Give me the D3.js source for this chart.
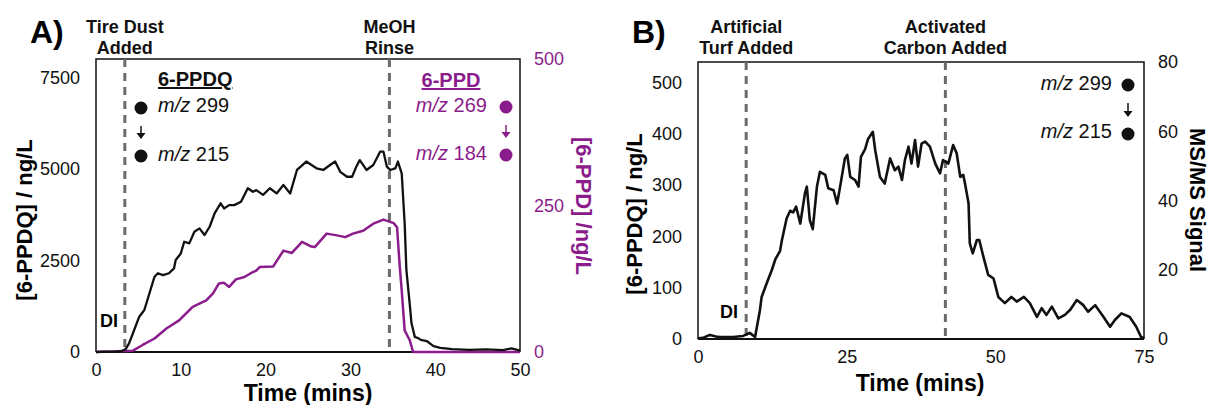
<!DOCTYPE html>
<html lang="en">
  <head>
    <meta charset="utf-8">
    <title>6-PPDQ / 6-PPD time traces</title>
    <script src="https://d3js.org/d3.v7.min.js"></script>
    <style>
      body { margin: 0; background: #fff; }
      text { font-family: "Liberation Sans", Arial, sans-serif; }
    </style>
  </head>
  <body>
    <svg id="chart" width="1209" height="405"></svg>
    <script type="text/javascript">
      // 1) data
      // panel A, 6-PPDQ (left axis, ng/L)
      let timeA_ppdq = [0, 1, 2, 3, 3.5, 3.9, 4.5, 5.1, 5.7, 6.3, 6.9, 7.3, 7.9, 8.6, 9.2, 9.4, 10.0, 10.4, 11.0, 11.6,
        12.2, 12.8, 13.4, 14.0, 14.7, 15.1, 15.7, 16.3, 17.1, 17.9, 18.5, 18.9, 19.7, 20.5, 21.3, 22.1, 22.9, 23.7,
        24.8, 26.0, 26.8, 27.6, 28.2, 28.8, 29.6, 30.2, 30.7, 31.1, 31.9, 32.7, 33.5, 33.9, 34.3, 34.7, 35.3, 35.6,
        36.05, 36.4, 36.6, 37.0, 37.2, 37.6, 38.0, 38.3, 39.0, 39.8, 40.6, 42, 44, 46, 48, 49, 50];
      let ppdq = [0, 10, 5, 20, 80, 237, 600, 964, 1147, 1600, 2055, 2150, 2100, 2150, 2285, 2510, 2690, 3010, 2965, 3285,
        3375, 3195, 3420, 3790, 4060, 3920, 4010, 4010, 4100, 4470, 4375, 4420, 4290, 4470, 4330, 4560, 4330, 4970,
        5200, 5015, 4970, 5105, 5200, 4920, 4785, 4785, 5060, 5240, 4970, 5105, 5470, 5470, 5060, 4970, 5015, 5200,
        4880, 3510, 2240, 1300, 790, 410, 380, 330, 300, 160, 110, 80, 60, 70, 50, 100, 40];
      // panel A, 6-PPD (right axis, ng/L)
      let timeA_ppd = [0, 4.3, 5.5, 6.9, 8.3, 9.8, 11.4, 13.0, 13.8, 14.5, 15.1, 15.7, 16.5, 17.5, 18.2, 18.9, 19.3,
        20.9, 22.1, 23.1, 24.3, 25.4, 25.8, 27.2, 28.4, 29.4, 30.3, 31.5, 32.7, 33.9, 35.1, 35.5, 35.8, 36.05, 36.4,
        37.0, 37.4, 50];
      let ppd = [0, 2, 12, 23, 40, 54, 77, 88, 100, 117, 118, 111, 124, 128, 134, 139, 145,
        146, 173, 169, 188, 180, 179, 202, 199, 196, 202, 207, 219, 226, 220, 213, 150, 105, 37,
        20, 0, 0];
      // panel B, 6-PPDQ (left axis, ng/L)
      let timeB = [0, 1, 2, 3, 3.7, 5.9, 7.6, 8.7, 9.6, 10.4, 10.7, 11.6, 12.4, 13.0, 13.8, 14.1, 14.9, 15.5, 16.0, 16.5,
        17.2, 18.0, 18.3, 18.8, 19.3, 20.0, 20.5, 21.4, 21.9, 22.8, 23.4, 23.9, 24.7, 25.1, 25.6, 26.4, 27.0, 27.4,
        28.1, 28.6, 29.4, 29.8, 30.6, 31.4, 32.3, 33.1, 33.7, 34.3, 34.8, 35.4, 35.9, 36.5, 37.0, 37.6, 38.2, 39.0,
        39.9, 40.7, 41.2, 42.1, 42.9, 43.5, 44.1, 44.6, 44.9, 45.5, 45.7, 46.2, 46.9, 47.3, 48.0, 48.8, 49.7, 50.5,
        51.6, 52.7, 53.6, 54.8, 55.8, 57.0, 57.8, 58.6, 59.5, 60.6, 61.7, 62.6, 63.7, 64.8, 65.6, 66.8, 68.2, 69.3,
        70.1, 71.2, 72.6, 73.7, 74.5, 75];
      let ppdqB = [1, 3, 8, 5, 4, 4, 6, 12, 4, 55, 82, 110, 134, 155, 172, 192, 235, 250, 247, 258,
        225, 285, 297, 232, 214, 297, 326, 320, 294, 290, 264, 297, 352, 359, 316, 310, 297, 355,
        370, 390, 404, 368, 316, 303, 352, 329, 336, 310, 349, 375, 342, 388, 336, 381, 385, 375,
        342, 323, 349, 342, 378, 362, 316, 320, 303, 264, 187, 167, 193, 193, 160, 125, 118, 82,
        70, 82, 73, 82, 70, 43, 60, 47, 63, 40, 47, 57, 76, 66, 53, 66, 43, 24,
        37, 50, 43, 24, 4, 2];

      // tick labels and event markers
      let ticksA_x = [0, 10, 20, 30, 40, 50];
      let ticksA_left = [0, 2500, 5000, 7500];
      let ticksA_right = [0, 250, 500];
      let ticksB_x = [0, 25, 50, 75];
      let ticksB_left = [0, 100, 200, 300, 400, 500];
      let ticksB_right = [0, 20, 40, 60, 80];
      let eventsA = [{t: 3.4, lines: ["Tire Dust", "Added"]}, {t: 34.6, lines: ["MeOH", "Rinse"]}];
      let eventsB = [{t: 8.1, lines: ["Artificial", "Turf Added"]}, {t: 41.6, lines: ["Activated", "Carbon Added"]}];

      // 2) vars
      let purple = "#8b1c8b", grey = "#6a6a6a";
      let svg = d3.select("#chart");

      // 3) scales
      let xA = d3.scaleLinear().domain([0, 50]).range([96, 520]);
      let yA = d3.scaleLinear().domain([0, 8000]).range([352, 59]);
      let yA2 = d3.scaleLinear().domain([0, 500]).range([352, 59]);
      let xB = d3.scaleLinear().domain([0, 75]).range([698, 1144]);
      let yB = d3.scaleLinear().domain([0, 540]).range([339, 62]);
      let yB2 = d3.scaleLinear().domain([0, 80]).range([339, 62]);

      function styleAxis(g, color) {
        g.select(".domain").remove();
        g.selectAll("text")
          .attr("font-family", "'Liberation Sans', Arial, sans-serif")
          .attr("font-size", 18)
          .attr("fill", color || "#111");
      }

      // frame + axes for one panel
      function drawPanel(x, y, y2, tx, tl, tr, rightColor) {
        let x0 = x.range()[0], x1 = x.range()[1], yb = y.range()[0], yt = y.range()[1];
        svg.append("g").attr("transform", "translate(0," + yb + ")")
          .call(d3.axisBottom(x).tickValues(tx).tickSize(0).tickPadding(11).tickFormat(d3.format("d")))
          .call(g => styleAxis(g));
        svg.append("g").attr("transform", "translate(" + x0 + ",0)")
          .call(d3.axisLeft(y).tickValues(tl).tickSize(0).tickPadding(16).tickFormat(d3.format("d")))
          .call(g => styleAxis(g));
        svg.append("g").attr("transform", "translate(" + x1 + ",0)")
          .call(d3.axisRight(y2).tickValues(tr).tickSize(0).tickPadding(14).tickFormat(d3.format("d")))
          .call(g => styleAxis(g, rightColor));
        // box
        svg.append("path")
          .attr("d", "M" + x0 + "," + yb + "V" + yt + "H" + x1 + "V" + yb)
          .attr("fill", "none").attr("stroke", "#111").attr("stroke-width", 1.5);
        svg.append("line")
          .attr("x1", x0).attr("x2", x1).attr("y1", yb).attr("y2", yb)
          .attr("stroke", "#111").attr("stroke-width", 2.2);
      }

      function drawEvents(events, x, y) {
        events.forEach(function(e) {
          svg.append("line")
            .attr("x1", x(e.t)).attr("x2", x(e.t))
            .attr("y1", y.range()[1]).attr("y2", y.range()[0])
            .attr("stroke", grey).attr("stroke-width", 3)
            .attr("stroke-dasharray", "8,6");
          e.lines.forEach(function(s, i) {
            svg.append("text")
              .attr("x", x(e.t)).attr("y", 33 + i * 21)
              .attr("text-anchor", "middle")
              .attr("font-weight", "bold").attr("font-size", 18)
              .attr("fill", "#111")
              .text(s);
          });
        });
      }

      function drawLine(ts, vs, x, y, color, w) {
        let pts = ts.map((t, i) => [t, vs[i]]);
        svg.append("path")
          .datum(pts)
          .attr("d", d3.line().x(d => x(d[0])).y(d => y(d[1])))
          .attr("fill", "none").attr("stroke", color)
          .attr("stroke-width", w).attr("stroke-linejoin", "round");
      }

      // legend entry: circle + m/z label
      function mz(xText, yText, anchor, label, color) {
        let t = svg.append("text")
          .attr("x", xText).attr("y", yText)
          .attr("text-anchor", anchor)
          .attr("font-size", 20).attr("fill", color);
        t.append("tspan").attr("font-style", "italic").text("m/z");
        t.append("tspan").text(" " + label);
      }
      function dotArrow(cx, cy1, cy2, color) {
        svg.append("circle").attr("cx", cx).attr("cy", cy1).attr("r", 6.5).attr("fill", color);
        svg.append("circle").attr("cx", cx).attr("cy", cy2).attr("r", 6.5).attr("fill", color);
        let ya = cy1 + 18, yb2 = cy2 - 17;
        svg.append("line").attr("x1", cx).attr("x2", cx).attr("y1", ya).attr("y2", yb2 - 2)
          .attr("stroke", color).attr("stroke-width", 1.5);
        svg.append("path")
          .attr("d", "M" + (cx - 4.5) + "," + (yb2 - 6) + "L" + cx + "," + yb2 + "L" + (cx + 4.5) + "," + (yb2 - 6) + "Z")
          .attr("fill", color);
      }

      // ---------- Panel A ----------
      drawPanel(xA, yA, yA2, ticksA_x, ticksA_left, ticksA_right, purple);
      drawEvents(eventsA, xA, yA);
      drawLine(timeA_ppd, ppd, xA, yA2, purple, 2.5);
      drawLine(timeA_ppdq, ppdq, xA, yA, "#111", 2.3);

      svg.append("text").attr("x", 30).attr("y", 43)
        .attr("font-size", 32).attr("font-weight", "bold").text("A)");
      svg.append("text").attr("x", 100).attr("y", 327)
        .attr("font-size", 18).attr("font-weight", "bold").text("DI");

      // 6-PPDQ legend
      svg.append("text").attr("x", 158).attr("y", 86)
        .attr("font-size", 20).attr("font-weight", "bold")
        .attr("text-decoration", "underline").attr("fill", "#111").text("6-PPDQ");
      mz(158, 112, "start", "299", "#111");
      mz(158, 161, "start", "215", "#111");
      dotArrow(141, 108, 156, "#111");

      // 6-PPD legend
      svg.append("text").attr("x", 451).attr("y", 87)
        .attr("text-anchor", "middle")
        .attr("font-size", 20).attr("font-weight", "bold")
        .attr("text-decoration", "underline").attr("fill", purple).text("6-PPD");
      mz(487, 112, "end", "269", purple);
      mz(487, 160, "end", "184", purple);
      dotArrow(506, 107, 155, purple);

      // axis titles A
      svg.append("text").attr("transform", "translate(32,220) rotate(-90)")
        .attr("text-anchor", "middle").attr("font-size", 22).attr("font-weight", "bold")
        .text("[6-PPDQ] / ng/L");
      svg.append("text").attr("transform", "translate(576,206) rotate(90)")
        .attr("text-anchor", "middle").attr("font-size", 22).attr("font-weight", "bold")
        .attr("fill", purple).text("[6-PPD] /ng/L");
      svg.append("text").attr("x", 308).attr("y", 401)
        .attr("text-anchor", "middle").attr("font-size", 23).attr("font-weight", "bold")
        .text("Time (mins)");

      // ---------- Panel B ----------
      drawPanel(xB, yB, yB2, ticksB_x, ticksB_left, ticksB_right, "#111");
      drawEvents(eventsB, xB, yB);
      drawLine(timeB, ppdqB, xB, yB, "#111", 2.6);

      svg.append("text").attr("x", 632).attr("y", 43)
        .attr("font-size", 32).attr("font-weight", "bold").text("B)");
      svg.append("text").attr("x", 720).attr("y", 318)
        .attr("font-size", 18).attr("font-weight", "bold").text("DI");

      mz(1112, 90, "end", "299", "#111");
      mz(1112, 138, "end", "215", "#111");
      dotArrow(1128, 85, 134, "#111");

      svg.append("text").attr("transform", "translate(642,214) rotate(-90)")
        .attr("text-anchor", "middle").attr("font-size", 22).attr("font-weight", "bold")
        .text("[6-PPDQ] / ng/L");
      svg.append("text").attr("transform", "translate(1190,200) rotate(90)")
        .attr("text-anchor", "middle").attr("font-size", 22).attr("font-weight", "bold")
        .text("MS/MS Signal");
      svg.append("text").attr("x", 920).attr("y", 391)
        .attr("text-anchor", "middle").attr("font-size", 23).attr("font-weight", "bold")
        .text("Time (mins)");
    </script>
  </body>
</html>
